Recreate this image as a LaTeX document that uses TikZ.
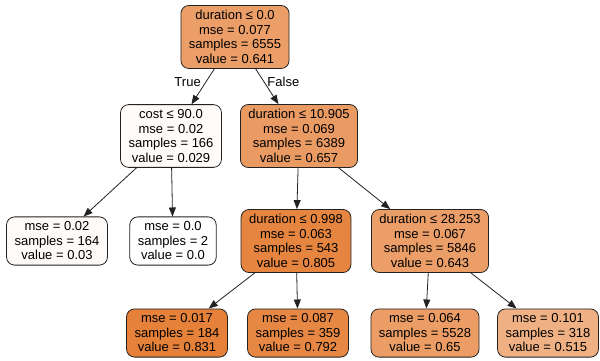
\documentclass[tikz,border=0pt]{standalone}
\usepackage{fontspec}
\setmainfont{Liberation Sans}
\usetikzlibrary{arrows.meta}
\definecolor{base}{HTML}{E58139}
\definecolor{edgec}{HTML}{222222}
\begin{document}
\begin{tikzpicture}[x=1pt,y=-1pt,
  tn/.style={draw=edgec, line width=0.8pt, rounded corners=8pt, align=center,
    font=\fontsize{13}{14.5}\selectfont, inner xsep=8pt, inner ysep=5pt},
  ed/.style={draw=edgec, line width=0.8pt, -{Triangle[length=9pt,width=7pt]}},
  lbl/.style={font=\fontsize{13}{14.5}\selectfont, inner sep=0pt}]
\useasboundingbox (0,0) rectangle (600,361);
\node[tn, fill=base!77!white] (root) at (235,37) {duration ≤ 0.0\\mse = 0.077\\samples = 6555\\value = 0.641};
\node[tn, fill=base!3!white] (cost) at (171,136) {cost ≤ 90.0\\mse = 0.02\\samples = 166\\value = 0.029};
\node[tn, fill=base!79!white] (d10) at (299,136) {duration ≤ 10.905\\mse = 0.069\\samples = 6389\\value = 0.657};
\node[tn, fill=base!4!white] (l1) at (57,241) {mse = 0.02\\samples = 164\\value = 0.03};
\node[tn, fill=white] (l2) at (173,241) {mse = 0.0\\samples = 2\\value = 0.0};
\node[tn, fill=base!97!white] (d0) at (296,241) {duration ≤ 0.998\\mse = 0.063\\samples = 543\\value = 0.805};
\node[tn, fill=base!77!white] (d28) at (430,241) {duration ≤ 28.253\\mse = 0.067\\samples = 5846\\value = 0.643};
\node[tn, fill=base] (l3) at (177,333) {mse = 0.017\\samples = 184\\value = 0.831};
\node[tn, fill=base!95!white] (l4) at (298,333) {mse = 0.087\\samples = 359\\value = 0.792};
\node[tn, fill=base!78!white] (l5) at (425,333) {mse = 0.064\\samples = 5528\\value = 0.65};
\node[tn, fill=base!62!white] (l6) at (548,333) {mse = 0.101\\samples = 318\\value = 0.515};
\draw[ed] (root) -- node[lbl, pos=0.36, left=5pt] (ltrue) {True} (cost);
\draw[ed] (root) -- node[lbl, pos=0.37, right=3pt] (lfalse) {False} (d10);
\draw[ed] (cost) -- (l1);
\draw[ed] (cost) -- (l2);
\draw[ed] (d10) -- (d0);
\draw[ed] (d10) -- (d28);
\draw[ed] (d0) -- (l3);
\draw[ed] (d0) -- (l4);
\draw[ed] (d28) -- (l5);
\draw[ed] (d28) -- (l6);
\end{tikzpicture}
\end{document}
